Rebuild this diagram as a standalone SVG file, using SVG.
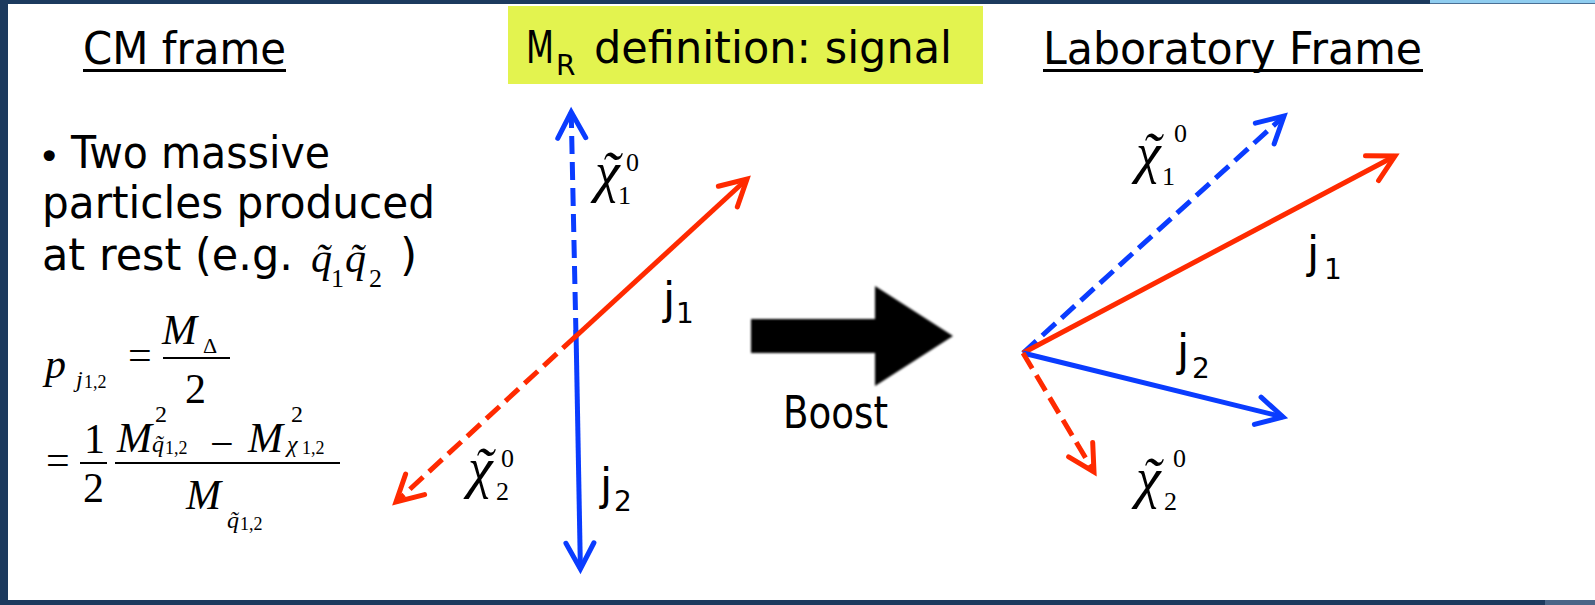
<svg xmlns="http://www.w3.org/2000/svg" width="1595" height="605" viewBox="0 0 1595 605">
<style>
.t{font-family:"DejaVu Sans","Liberation Sans",sans-serif;font-size:44px;fill:#000}
.s{font-size:28px}
.m{font-family:"Liberation Serif","Times New Roman",serif;fill:#000}
.i{font-style:italic}
.c{font-family:"Liberation Serif","Times New Roman",serif;font-style:italic;font-size:56px;fill:#000}
.n{font-style:normal;font-size:26px}
.b{stroke:#0a3cff;stroke-width:5;fill:none}
.r{stroke:#ff2a00;stroke-width:5;fill:none}
.d{stroke-dasharray:18 8}
</style>
<defs>
<marker id="ab" markerUnits="userSpaceOnUse" viewBox="-30 -18 34 36" markerWidth="34" markerHeight="36" refX="0" refY="0" orient="auto" overflow="visible">
<path d="M-26,-14 L0,0 L-26,14" fill="none" stroke="#0a3cff" stroke-width="5" stroke-linecap="round"/>
</marker>
<marker id="ar" markerUnits="userSpaceOnUse" viewBox="-30 -18 34 36" markerWidth="34" markerHeight="36" refX="0" refY="0" orient="auto" overflow="visible">
<path d="M-26,-14 L0,0 L-26,14" fill="none" stroke="#ff2a00" stroke-width="5" stroke-linecap="round"/>
</marker>
<filter id="soft" x="-5%" y="-5%" width="110%" height="110%"><feGaussianBlur stdDeviation="0.9"/></filter>
</defs>
<rect width="1595" height="605" fill="#fff"/>
<rect x="0" y="0" width="8" height="605" fill="#1c3a5e"/>
<rect x="0" y="0" width="1430" height="4" fill="#1c3a5e"/>
<rect x="1430" y="0" width="165" height="3" fill="#8fcdf0"/>
<rect x="1430" y="3" width="165" height="1" fill="#4a6f94"/>
<rect x="0" y="600" width="1545" height="5" fill="#1c3a5e"/>
<rect x="1545" y="600" width="50" height="5" fill="#4a6587"/>

<g id="title-cm">
<text class="t" x="83" y="64" textLength="203" lengthAdjust="spacingAndGlyphs">CM frame</text>
<rect x="83" y="69" width="203" height="3" fill="#000"/>
</g>
<g id="title-signal">
<rect x="508" y="6" width="475" height="78" fill="#e3f34f"/>
<text class="t" x="526" y="63"><tspan textLength="28" lengthAdjust="spacingAndGlyphs">M</tspan><tspan class="s" x="556" y="75">R</tspan></text>
<text class="t" x="594" y="63" textLength="358" lengthAdjust="spacingAndGlyphs">definition: signal</text>
</g>
<g id="title-lab">
<text class="t" x="1043" y="64" textLength="379" lengthAdjust="spacingAndGlyphs">Laboratory Frame</text>
<rect x="1043" y="69" width="380" height="3" fill="#000"/>
</g>

<g id="bullet-text">
<text class="t" x="38" y="170" style="font-size:38px">•</text>
<text class="t" x="71" y="168" textLength="259" lengthAdjust="spacingAndGlyphs">Two massive</text>
<text class="t" x="42" y="218" textLength="393" lengthAdjust="spacingAndGlyphs">particles produced</text>
<text class="t" x="42" y="270" textLength="251" lengthAdjust="spacingAndGlyphs">at rest (e.g.</text>
<text class="m i" x="311" y="272" font-size="42">q̃<tspan class="n" x="331" y="287">1</tspan><tspan x="345" y="272">q̃</tspan><tspan class="n" x="369" y="287">2</tspan></text>
<text class="t" x="400" y="270">)</text>
</g>

<g id="formula">
<text class="m i" x="45" y="378" font-size="42">p<tspan x="76" y="387" font-size="24">j</tspan><tspan x="84" y="388" font-size="18" font-style="normal">1,2</tspan></text>
<text class="m" x="128" y="369" font-size="42">=</text>
<text class="m i" x="162" y="344" font-size="42">M<tspan x="203" y="353" font-size="22" font-style="normal">Δ</tspan></text>
<line x1="163" y1="358" x2="230" y2="358" stroke="#000" stroke-width="2"/>
<text class="m" x="185" y="403" font-size="42">2</text>

<text class="m" x="46" y="474" font-size="42">=</text>
<text class="m" x="84" y="453" font-size="42">1</text>
<line x1="80" y1="463" x2="107" y2="463" stroke="#000" stroke-width="2"/>
<text class="m" x="83" y="502" font-size="42">2</text>
<text class="m i" x="117" y="452" font-size="42">M<tspan x="155" y="422" font-size="24" font-style="normal">2</tspan><tspan x="152" y="452" font-size="24">q̃</tspan><tspan x="165" y="454" font-size="18" font-style="normal">1,2</tspan></text>
<text class="m" x="210" y="458" font-size="42">−</text>
<text class="m i" x="248" y="452" font-size="42">M<tspan x="291" y="422" font-size="24" font-style="normal">2</tspan><tspan x="287" y="452" font-size="24">χ</tspan><tspan x="302" y="454" font-size="18" font-style="normal">1,2</tspan></text>
<line x1="115" y1="463" x2="340" y2="463" stroke="#000" stroke-width="2"/>
<text class="m i" x="186" y="509" font-size="42">M<tspan x="227" y="528" font-size="24">q̃</tspan><tspan x="240" y="530" font-size="18" font-style="normal">1,2</tspan></text>
</g>

<g id="connectors">
<line class="b d" x1="576" y1="336" x2="571.2" y2="112" marker-end="url(#ab)"/>
<line class="b" x1="576" y1="330" x2="580.4" y2="569" marker-end="url(#ab)"/>
<line class="r" x1="574" y1="338" x2="747" y2="179" marker-end="url(#ar)"/>
<line class="r d" x1="576" y1="336" x2="396" y2="502" marker-end="url(#ar)"/>

<line class="b d" x1="1023" y1="353" x2="1284" y2="116" marker-end="url(#ab)"/>
<line class="r" x1="1023" y1="353" x2="1395" y2="156" marker-end="url(#ar)"/>
<line class="b" x1="1023" y1="353" x2="1283" y2="417" marker-end="url(#ab)"/>
<line class="r d" x1="1023" y1="353" x2="1094" y2="472" marker-end="url(#ar)"/>
</g>

<g id="cm-labels">
<g id="chi1-cm">
<text class="c" x="595" y="191">χ<tspan dx="-19">˜</tspan><tspan class="n" x="618" y="204">1</tspan><tspan class="n" x="626" y="171">0</tspan></text>
</g>
<g id="chi2-cm">
<text class="c" x="468" y="487">χ<tspan dx="-19">˜</tspan><tspan class="n" x="496" y="500">2</tspan><tspan class="n" x="501" y="467">0</tspan></text>
</g>
<g id="j1-cm">
<text class="t" x="663" y="314">j<tspan class="s" x="676" y="323">1</tspan></text>
</g>
<g id="j2-cm">
<text class="t" x="600" y="500">j<tspan class="s" x="614" y="511">2</tspan></text>
</g>
</g>

<g id="boost">
<path d="M751,319 H875 V286 L953,336 L875,386 V353 H751 Z" fill="#000" filter="url(#soft)"/>
<text class="t" x="783" y="428" textLength="105" lengthAdjust="spacingAndGlyphs">Boost</text>
</g>

<g id="lab-labels">
<g id="chi1-lab">
<text class="c" x="1136" y="172">χ<tspan dx="-19">˜</tspan><tspan class="n" x="1162" y="185">1</tspan><tspan class="n" x="1174" y="142">0</tspan></text>
</g>
<g id="chi2-lab">
<text class="c" x="1136" y="497">χ<tspan dx="-19">˜</tspan><tspan class="n" x="1164" y="510">2</tspan><tspan class="n" x="1173" y="467">0</tspan></text>
</g>
<g id="j1-lab">
<text class="t" x="1307" y="268">j<tspan class="s" x="1324" y="279">1</tspan></text>
</g>
<g id="j2-lab">
<text class="t" x="1177" y="366">j<tspan class="s" x="1192" y="378">2</tspan></text>
</g>
</g>
</svg>
